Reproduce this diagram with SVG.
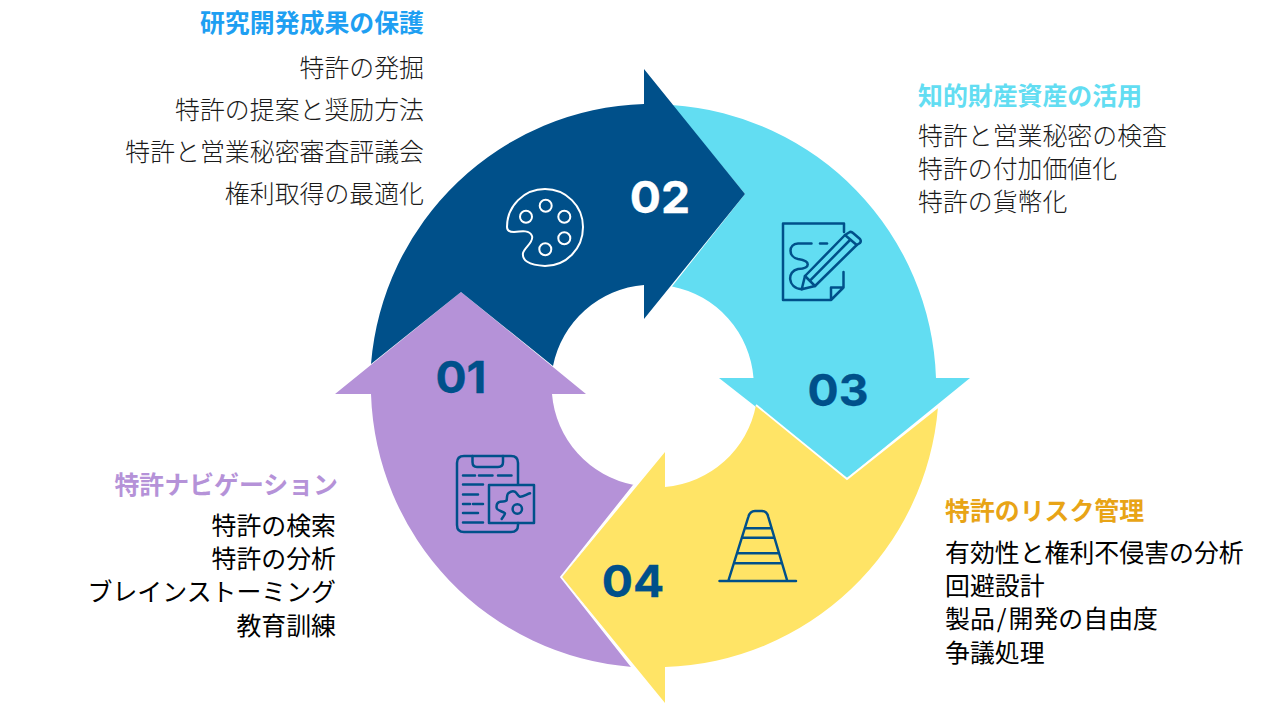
<svg xmlns="http://www.w3.org/2000/svg" width="1270" height="704" viewBox="0 0 1270 704">
<style>
text{font-family:"Noto Sans CJK JP","Noto Sans",sans-serif}
.h{font-size:24.900px;font-weight:700}
.b{font-size:24.900px;font-weight:300;fill:#1a1a1a}
.k{font-size:24.900px;font-weight:400;fill:#000}
.n{font-family:"Inter","Liberation Sans",sans-serif;font-size:44px;font-weight:700;fill:#00508a;stroke:#00508a;stroke-width:.3}
.i{fill:none;stroke:#00508a;stroke-width:2.500;stroke-linecap:round;stroke-linejoin:round}
.w{fill:none;stroke:#fff;stroke-width:2;stroke-linecap:round;stroke-linejoin:round}
.e{text-anchor:end}
.s{fill:none;stroke:#fff;stroke-width:1.800}
</style>
<rect width="1270" height="704" fill="#fff"/>
<g id="connectors">
<path id="arrow-03" d="M672 105A283 283 0 0 1 936 378H970L847 478L719 378H753.500A101 101 0 0 0 672 286.500L745 194Z" fill="#62ddf2"/>
<path id="arrow-04" d="M938 407A283 283 0 0 1 665 667V703L562 577L665 452V487A101 101 0 0 0 756 405L847 478Z" fill="#ffe466"/>
<path id="arrow-01" d="M632 667A283 283 0 0 1 371 394H335L461 292L586 394H552A101 101 0 0 0 634 485L562 577Z" fill="#b592d8"/>
<path id="arrow-02" d="M371 364A283 283 0 0 1 644 104V69L745 194L644 319V285A101 101 0 0 0 553 366L461 292Z" fill="#00508a"/>
<path class="s" d="M634 485L561 577L632 667M756 405L847 479L938 407"/>
</g>
<g id="node-01"><text class="n" transform="translate(461 393) scale(1.05 1)" text-anchor="middle">01</text>
<g class="i"><path d="M518 484V463Q518 456 511 456H464Q457 456 457 463V525Q457 532 464 532H511Q518 532 518 525V523"/><path d="M472.500 456V462Q472.500 467 477 467H498Q503 467 503 462V456"/><path d="M463 475.500H475M479 475.500H492.500M498 475.500H511.500M463 484.500H483M463 494.500H478M463 504H470M473 504H483M463 513H478M463 522.500H483"/><rect x="489" y="485" width="45" height="38"/><path d="M501.700 519C503 517 505 515 505 513.300C503 511 497 511 496.700 508C496 504 498 502 500 501.700C503 501 506 502 506.700 500C507 497 507 494 508.300 493.300C511 491 513 491 515 491.700C517 493 518 496 520 496.700C523 497 527 494 530 493.300"/><circle cx="517.300" cy="509" r="4.700"/></g></g>
<g id="node-02"><text class="n" transform="translate(660 213) scale(1.05 1)" text-anchor="middle" style="fill:#fff;stroke:#fff">02</text>
<g class="w"><path d="M545 189C524 189 507 206 507 227C507 231 510 232 514 232C522 231 530 230 532 236C534 242 525 247 523 253C522 260 528 265 545 266C566 266 583 249 583 227C583 206 566 189 545 189Z"/><circle cx="545.700" cy="205.700" r="6"/><circle cx="526" cy="216.700" r="6"/><circle cx="564.300" cy="216.700" r="6"/><circle cx="564.300" cy="238.300" r="6"/><circle cx="545.300" cy="249.300" r="6"/></g></g>
<g id="node-03"><text class="n" transform="translate(838 406) scale(1.05 1)" text-anchor="middle">03</text>
<g class="i"><path d="M844 232V223.500H783V300H831L843.500 287.500V272M831 300V287.500H843.500"/><path d="M811.500 243.500H798C788 244 788 257 798 259C811 261 811 268 798 269C787 271 787 288 801.700 289.300"/><path d="M820 243.500H827"/><path d="M801.700 289.300L805 276L845 235L856.700 245L815 286Z"/><path d="M810 280.700L850 240M805 276L815 286"/><path d="M845 235L849 232.500Q851 231 853 233L860 239Q861.500 241 860 243L856.700 245"/></g></g>
<g id="node-04"><text class="n" transform="translate(633 597) scale(1.05 1)" text-anchor="middle">04</text>
<g class="i"><path d="M719.500 581H796M728.300 581L748.300 517Q750 511 755 511H762Q767 511 768.300 517L787.300 581M745 528.300H770.700M742.300 537.700H773.300M737.300 553.300H778.300M734.300 563.300H781.700"/></g></g>
<g id="label-02"><text class="h e" x="424" y="32" style="fill:#1e9ff2">研究開発成果の保護</text>
<text class="b e" x="424" y="77">特許の発掘</text><text class="b e" x="424" y="119">特許の提案と奨励方法</text><text class="b e" x="424" y="161">特許と営業秘密審査評議会</text><text class="b e" x="424" y="203">権利取得の最適化</text></g>
<g id="label-03"><text class="h" x="918" y="105" style="fill:#62ddf2">知的財産資産の活用</text>
<text class="b" x="918" y="145">特許と営業秘密の検査</text><text class="b" x="918" y="178">特許の付加価値化</text><text class="b" x="918" y="211">特許の貨幣化</text></g>
<g id="label-04"><text class="h" x="945" y="520" style="fill:#e8a416">特許のリスク管理</text>
<text class="k" x="945" y="562">有効性と権利不侵害の分析</text><text class="k" x="945" y="595">回避設計</text><text class="k" x="945" y="628">製品<tspan dx="2">/</tspan><tspan dx="2">開発の自由度</tspan></text><text class="k" x="945" y="662">争議処理</text></g>
<g id="label-01"><text class="h e" x="338" y="494" style="fill:#b592d8">特許ナビゲーション</text>
<text class="k e" x="336" y="535">特許の検索</text><text class="k e" x="336" y="568">特許の分析</text><text class="k e" x="336" y="601">ブレインストーミング</text><text class="k e" x="336" y="635">教育訓練</text></g>
</svg>
